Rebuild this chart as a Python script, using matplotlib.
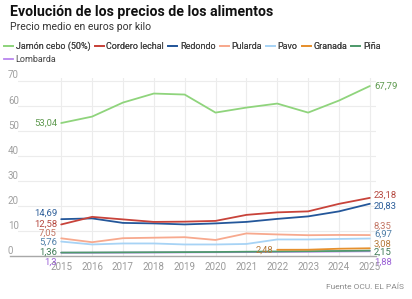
import numpy as np
import matplotlib
matplotlib.use('AGG')
import matplotlib.pyplot as plt
import matplotlib.transforms as mtransforms
from matplotlib.lines import Line2D

plt.rcParams['font.family'] = ['Roboto', 'DejaVu Sans']

years = list(range(2015, 2026))

jamon = [53.04, 55.6, 61.2, 64.8, 64.4, 57.2, 59.2, 60.8, 57.2, 62.0, 67.79]
cordero = [12.58, 15.6, 14.6, 13.6, 13.7, 14.0, 16.4, 17.4, 17.8, 20.8, 23.18]
redondo = [14.69, 15.0, 13.2, 13.0, 12.6, 13.0, 13.6, 14.8, 15.8, 17.8, 20.83]
pularda = [7.05, 5.5, 7.1, 7.3, 7.5, 6.4, 9.0, 8.6, 8.3, 8.4, 8.35]
pavo = [5.76, 4.6, 5.0, 5.0, 4.6, 4.6, 4.8, 6.6, 6.6, 6.8, 6.97]
granada = [None, None, None, None, None, None, None, 2.48, 2.5, 2.9, 3.08]
pina = [1.36, 1.4, 1.45, 1.5, 1.55, 1.6, 1.7, 1.8, 1.9, 2.0, 2.15]
lombarda = [1.3, 1.3, 1.35, 1.4, 1.45, 1.5, 1.55, 1.65, 1.7, 1.8, 1.88]

names = ['Jamón cebo (50%)', 'Cordero lechal', 'Redondo', 'Pularda', 'Pavo',
         'Granada', 'Piña', 'Lombarda']
series = [jamon, cordero, redondo, pularda, pavo, granada, pina, lombarda]
line_colors = ['#8fd47c', '#c8433a', '#24579a', '#f7a98e', '#a7d3f5',
               '#e6902d', '#4f9a6c', '#b985ee']
text_colors = ['#5f9a50', '#b5473e', '#2e5f9a', '#c27563', '#4f7fa8',
               '#b57a3a', '#3e7a56', '#9a5fd6']
# label nudges in pixels (left end, right end)
left_nudge = [0, 0, 6, 5, -1, 0, 0, -9]
right_nudge = [0, 3, -2, 9, 4, 4, -2, -11]

fig = plt.figure(figsize=(4.12, 2.99), dpi=100)
W, H = 412, 299
ax = fig.add_axes([18 / W, 1 - 256 / H, (376 - 18) / W, (256 - 78) / H])

ax.set_xlim(2013.6, 2025.2)
ax.set_ylim(0, 71)

draw_order = [7, 6, 5, 4, 3, 2, 1, 0]
for i in draw_order:
    xs = [y for y, v in zip(years, series[i]) if v is not None]
    vs = [v for v in series[i] if v is not None]
    ax.plot(xs, vs, color=line_colors[i], lw=1.3, solid_capstyle='round', zorder=3 + (8 - i) * 0.01)


def lab(v):
    if v == round(v, 1):
        return ('%g' % v).replace('.', ',')
    return ('%.2f' % v).replace('.', ',')


for i, vals in enumerate(series):
    xs = [y for y, v in zip(years, vals) if v is not None]
    vs = [v for v in vals if v is not None]
    first, last = vs[0], vs[-1]
    ax.annotate(lab(first), (xs[0], first), xytext=(-3, left_nudge[i] * 0.72),
                textcoords='offset points', ha='right', va='center',
                fontsize=6.8, color=text_colors[i], zorder=5)
    ax.annotate(lab(last), (xs[-1], last), xytext=(3, right_nudge[i] * 0.72),
                textcoords='offset points', ha='left', va='center',
                fontsize=6.8, color=text_colors[i], annotation_clip=False, zorder=5)

ax.set_xticks(years)
ax.set_xticklabels([str(y) for y in years], fontsize=7, color='#9a9a9a')
ax.tick_params(axis='x', length=0, pad=4)
ax.set_yticks(range(0, 80, 10))
ax.set_yticklabels([])
ax.tick_params(axis='y', length=0)
ax.grid(True, color='#ececec', lw=0.8, zorder=0)
trans = mtransforms.blended_transform_factory(fig.transFigure, ax.transData)
for t in ax.get_yticks():
    if t <= 70:
        ax.text(8 / W, t + 2.0, '%d' % t, transform=trans, fontsize=7,
                color='#a0a0a0', ha='left', va='center')

for s in ['top', 'right', 'left']:
    ax.spines[s].set_visible(False)
ax.spines['bottom'].set_color('#a8a8a8')
ax.spines['bottom'].set_linewidth(1)
ax.spines['bottom'].set_bounds(2013.35, 2025.2)

fig.text(10 / W, 1 - 12 / H, 'Evolución de los precios de los alimentos',
         fontsize=10.2, fontweight='bold', color='#111111', va='center')
fig.text(10 / W, 1 - 27 / H, 'Precio medio en euros por kilo',
         fontsize=7.5, color='#333333', va='center')

handles = [Line2D([0], [0], color=c, lw=1.3) for c in line_colors]
leg1 = fig.legend(handles[:7], names[:7], loc='center left', bbox_to_anchor=(4 / W, 1 - 46 / H),
                  ncol=7, frameon=False, fontsize=6.5, handlelength=1.0, handletextpad=0.3,
                  columnspacing=0.45, labelcolor='#444444', borderaxespad=0, borderpad=0)
fig.legend(handles[7:], names[7:], loc='center left', bbox_to_anchor=(4 / W, 1 - 60 / H),
           frameon=False, fontsize=6.5, handlelength=1.0, handletextpad=0.3,
           labelcolor='#444444', borderaxespad=0, borderpad=0)
fig.add_artist(leg1)

fig.text(1 - 8 / W, 1 - 287 / H, 'Fuente OCU. EL PAÍS', fontsize=6, color='#8a8a8a',
         ha='right', va='center')

fig.savefig('out.png', dpi=100)
